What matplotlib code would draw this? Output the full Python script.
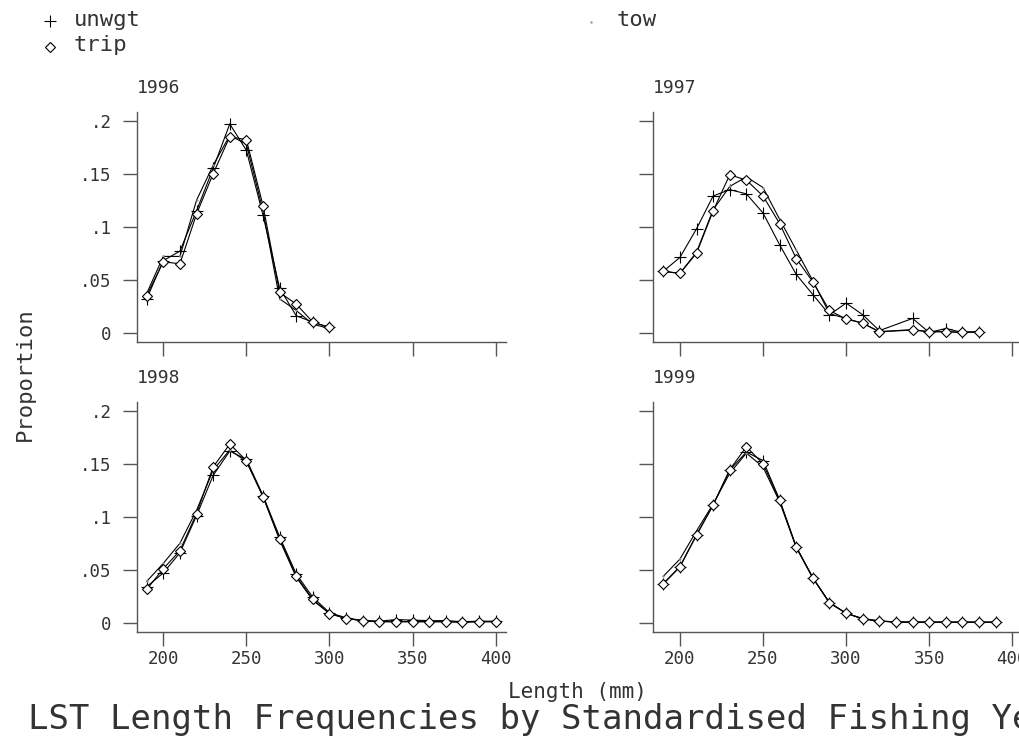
import numpy as np
import matplotlib
matplotlib.use("Agg")
import matplotlib.pyplot as plt
from matplotlib.lines import Line2D

# length classes (mm)
len_96 = [190, 200, 210, 220, 230, 240, 250, 260, 270, 280, 290, 300]
len_97 = [190, 200, 210, 220, 230, 240, 250, 260, 270, 280, 290, 300, 310, 320,
          340, 350, 360, 370, 380]
len_98 = [190, 200, 210, 220, 230, 240, 250, 260, 270, 280, 290, 300, 310, 320,
          330, 340, 350, 360, 370, 380, 390, 400]
len_99 = [190, 200, 210, 220, 230, 240, 250, 260, 270, 280, 290, 300, 310, 320,
          330, 340, 350, 360, 370, 380, 390]

# proportions, 1996
unwgt_96 = [.032, .068, .077, .115, .155, .197, .172, .111, .042, .016, .010, .005]
tow_96 = [.037, .072, .072, .125, .158, .186, .178, .115, .032, .021, .008, .004]
trip_96 = [.035, .067, .065, .112, .150, .185, .182, .120, .038, .027, .010, .005]

# 1997
unwgt_97 = [.058, .071, .098, .129, .135, .131, .113, .083, .055, .036, .017, .028,
            .017, .002, .0135, .0003, .004, .0003, .001]
tow_97 = [.058, .056, .076, .116, .138, .147, .137, .107, .078, .049, .018, .0135,
          .009, .001, .003, .001, .001, .0003, .001]
trip_97 = [.058, .056, .075, .115, .149, .144, .129, .103, .070, .048, .021, .013,
           .009, .001, .0025, .001, .001, .0003, .001]

# 1998
unwgt_98 = [.034, .047, .066, .101, .139, .162, .154, .120, .081, .046, .024, .0095,
            .0047, .002, .0015, .003, .0025, .002, .002, .001, .0015, .0015]
tow_98 = [.039, .056, .075, .106, .144, .163, .152, .119, .078, .043, .021, .009,
          .004, .002, .001, .001, .001, .001, .001, .001, .001, .001]
trip_98 = [.0315, .051, .068, .103, .147, .1685, .153, .119, .079, .044, .022, .0085,
           .004, .002, .001, .001, .001, .001, .001, .0003, .001, .001]

# 1999
unwgt_99 = [.037, .053, .083, .111, .144, .161, .153, .116, .0715, .0425, .019, .009,
            .004, .0018, .0008, .0006, .0006, .0005, .0004, .0004, .0004]
tow_99 = [.0438, .060, .0866, .112, .141, .160, .147, .114, .071, .042, .019, .009,
          .0037, .0016, .0006, .0006, .0006, .0006, .0006, .0006, .0006]
trip_99 = [.0365, .0526, .0825, .111, .1445, .166, .150, .1156, .0715, .0425, .0186, .009,
           .0035, .0016, .0006, .0006, .0006, .0006, .0006, .0006, .0006]

years = ["1996", "1997", "1998", "1999"]
yticks = [0, .05, .1, .15, .2]
ytick_labels = ["0", ".05", ".1", ".15", ".2"]
xticks = [200, 250, 300, 350, 400]

W, H = 1019, 744
FONT = "DejaVu Sans Mono"
TXT = "#333333"
AX = "#555555"

fig = plt.figure(figsize=(W / 100, H / 100), dpi=100)


def fx(px):
    return px / W


def fy(py):
    return 1 - py / H


# panel boxes in pixels: left, top
boxes = [(136.7, 111.7), (653.3, 111.7), (136.7, 401.7), (653.3, 401.7)]
pw, ph = 369.3, 230.6

panels = [
    (len_96, unwgt_96, tow_96, trip_96),
    (len_97, unwgt_97, tow_97, trip_97),
    (len_98, unwgt_98, tow_98, trip_98),
    (len_99, unwgt_99, tow_99, trip_99),
]

for i, (x, u, t, tr) in enumerate(panels):
    l, top = boxes[i]
    ax = fig.add_axes([fx(l), fy(top + ph), pw / W, ph / H])
    ax.plot(x, u, color="black", lw=0.8, marker="+", ms=9, mew=0.8)
    ax.plot(x, t, color="black", lw=0.8, marker=".", ms=1.5, mfc="#999999", mec="#999999")
    ax.plot(x, tr, color="black", lw=0.8, marker="D", ms=5.5, mfc="white", mec="black", mew=0.8)
    ax.set_xlim(184, 406.2)
    ax.set_ylim(-0.009, 0.2085)
    for s in ["top", "right"]:
        ax.spines[s].set_visible(False)
    for s in ["left", "bottom"]:
        ax.spines[s].set_color(AX)
        ax.spines[s].set_linewidth(1.0)
    ax.set_xticks(xticks)
    ax.set_yticks(yticks)
    ax.tick_params(direction="out", length=10, width=1.0, color=AX,
                   labelsize=12.5, labelcolor=TXT)
    ax.tick_params(axis="y", pad=8)
    ax.tick_params(axis="x", pad=3)
    if i % 2 == 0:
        ax.set_yticklabels(ytick_labels, family=FONT)
    else:
        ax.set_yticklabels([])
    if i >= 2:
        ax.set_xticklabels([str(v) for v in xticks], family=FONT)
    else:
        ax.set_xticklabels([])
    fig.text(fx(l), fy(top - 24), years[i], family=FONT, fontsize=13,
             color=TXT, ha="left", va="center")

# legend
fig.add_artist(Line2D([fx(50)], [fy(21)], marker="+", ms=8, mew=0.8, color="black"))
fig.add_artist(Line2D([fx(50)], [fy(47)], marker="D", ms=5, mfc="white", mec="black", mew=0.8))
fig.add_artist(Line2D([fx(591)], [fy(22)], marker=".", ms=1.5, color="#999999"))
fig.text(fx(74), fy(20), "unwgt", family=FONT, fontsize=16, color=TXT, ha="left", va="center")
fig.text(fx(74), fy(45), "trip", family=FONT, fontsize=16, color=TXT, ha="left", va="center")
fig.text(fx(617), fy(20), "tow", family=FONT, fontsize=16, color=TXT, ha="left", va="center")

fig.text(fx(25), fy(374), "Proportion", family=FONT, fontsize=16, color=TXT,
         rotation=90, ha="center", va="center")
fig.text(fx(577), fy(692), "Length (mm)", family=FONT, fontsize=15, color=TXT,
         ha="center", va="center")
fig.text(fx(28), fy(720), "LST Length Frequencies by Standardised Fishing Year",
         family=FONT, fontsize=24.5, color=TXT, ha="left", va="center")

fig.savefig("out.png", dpi=100, facecolor="white")
